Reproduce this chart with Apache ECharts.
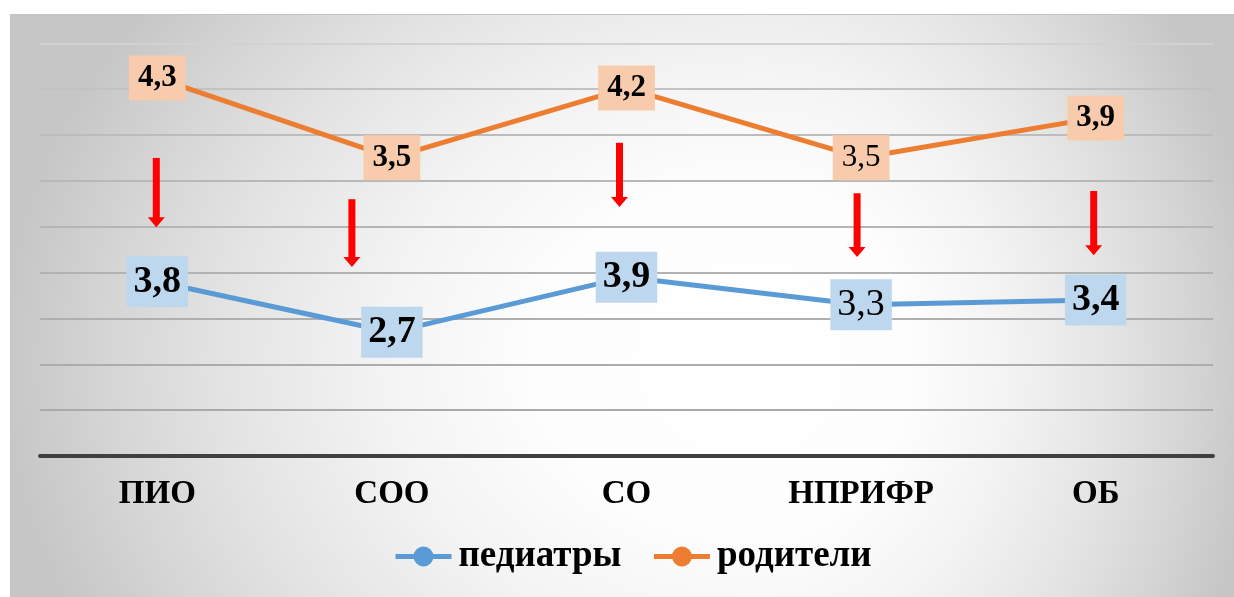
<!DOCTYPE html>
<html>
<head>
<meta charset="utf-8">
<script src="https://cdn.jsdelivr.net/npm/echarts@6/dist/echarts.min.js"></script>
<style>
  html, body { margin: 0; padding: 0; background: #ffffff; }
  #chart { width: 1234px; height: 597px; }
</style>
</head>
<body>
<div id="chart"></div>
<script>
// Categories and values
const categories = ['ПИО', 'СОО', 'СО', 'НПРИФР', 'ОБ'];
const seriesNames = ['педиатры', 'родители'];
const pediatricians = [3.8, 2.7, 3.9, 3.3, 3.4];
const parents = [4.3, 3.5, 4.2, 3.5, 3.9];
// Red arrows between the two lines (span in gridline-scale units)
const arrowTop = [6.5, 5.6, 6.83, 5.73, 5.78];
const arrowBottom = [4.99, 4.12, 5.43, 4.34, 4.38];
// Categories whose value labels are set in regular weight
const plainLabelCategories = ['НПРИФР'];

const FONT = "'Liberation Serif', 'Times New Roman', serif";
const fmt = v => String(v).replace('.', ',');

function buildData(values) {
  return values.map((v, i) => {
    const item = { value: v };
    if (plainLabelCategories.indexOf(categories[i]) >= 0) {
      item.label = { fontWeight: 'normal' };
    }
    return item;
  });
}

// Background panel: off-centre elliptical radial shading, drawn as two halves
const box = { x0: 10, y0: 14, x1: 1234, y1: 597 };
const cx = 760, cy = 360, ry = 600, rxL = 760, rxR = 500;
const stops = [
  { offset: 0, color: '#ffffff' },
  { offset: 0.3, color: '#fdfdfd' },
  { offset: 0.5, color: '#f3f3f3' },
  { offset: 0.7, color: '#e4e4e4' },
  { offset: 0.85, color: '#d6d6d6' },
  { offset: 1, color: '#c6c6c6' }
];
function halfPanel(left) {
  const s = (left ? rxL : rxR) / ry;
  const x0 = left ? (box.x0 - cx) / s : -0.5;
  const x1 = left ? 0.5 : (box.x1 - cx) / s;
  return {
    type: 'rect', z: -100, silent: true,
    x: cx, y: cy, scaleX: s, scaleY: 1,
    shape: { x: x0, y: box.y0 - cy, width: x1 - x0, height: box.y1 - box.y0 },
    style: { fill: new echarts.graphic.RadialGradient(0, 0, ry, stops, true) }
  };
}

const gridColors = ['#aaaaaa', '#aaaaaa', '#acacac', '#afafaf', '#b2b2b2',
                    '#b5b5b5', '#b8b8b8', '#bcbcbc', '#c2c2c2', '#d2d2d2'];

const chart = echarts.init(document.getElementById('chart'), null, { renderer: 'canvas' });

chart.setOption({
  backgroundColor: '#ffffff',
  animation: false,
  graphic: [
    halfPanel(true),
    halfPanel(false),
    {
      type: 'rect', z: -99, silent: true,
      shape: { x: box.x0 + 0.5, y: box.y0 + 0.5, width: box.x1 - box.x0, height: box.y1 - box.y0 },
      style: { fill: 'transparent', stroke: '#c4c4c4', lineWidth: 1 }
    }
  ],
  grid: { left: 40, right: 21, top: 43.3, bottom: 141, containLabel: false },
  legend: {
    data: seriesNames,
    left: 393, top: 538, padding: 0,
    itemWidth: 56, itemHeight: 25, itemGap: 30,
    lineStyle: { width: 5 },
    textStyle: { fontFamily: FONT, fontSize: 37, fontWeight: 'bold', color: '#000000', padding: [0, 0, 0, 2] }
  },
  xAxis: {
    type: 'category',
    data: categories,
    boundaryGap: true,
    axisLine: { lineStyle: { color: '#404040', width: 4 } },
    axisTick: { show: false },
    splitLine: { show: false },
    axisLabel: {
      margin: 22, color: '#000000',
      fontFamily: FONT, fontSize: 33, fontWeight: 'bold'
    }
  },
  yAxis: [
    {
      type: 'value', min: 0, max: 9, interval: 1,
      axisLine: { show: false }, axisTick: { show: false },
      axisLabel: { show: false },
      splitLine: { lineStyle: { color: gridColors, width: 2 } }
    },
    {
      type: 'value', min: 0.5, max: 4.65, show: false,
      splitLine: { show: false }
    }
  ],
  series: [
    {
      name: seriesNames[0],
      type: 'line',
      yAxisIndex: 0,
      data: buildData(pediatricians),
      symbol: 'circle', symbolSize: 10,
      lineStyle: { color: '#5b9bd5', width: 5 },
      itemStyle: { color: '#5b9bd5' },
      z: 3,
      label: {
        show: true, position: 'inside',
        formatter: p => fmt(p.value),
        fontFamily: FONT, fontSize: 38, fontWeight: 'bold', color: '#000000',
        lineHeight: 38,
        backgroundColor: '#bdd7ee', padding: [6, 7, 7, 7]
      }
    },
    {
      name: seriesNames[1],
      type: 'line',
      yAxisIndex: 1,
      data: buildData(parents),
      symbol: 'circle', symbolSize: 10,
      lineStyle: { color: '#ed7d31', width: 5 },
      itemStyle: { color: '#ed7d31' },
      z: 3,
      label: {
        show: true, position: 'inside',
        formatter: p => fmt(p.value),
        fontFamily: FONT, fontSize: 31, fontWeight: 'bold', color: '#000000',
        lineHeight: 31,
        backgroundColor: '#f8cbad', padding: [7, 9, 7, 9]
      }
    },
    {
      type: 'custom',
      name: 'arrows',
      xAxisIndex: 0, yAxisIndex: 0,
      silent: true, z: 2,
      encode: { x: 0, y: [1, 2] },
      data: categories.map((c, i) => [i, arrowTop[i], arrowBottom[i]]),
      renderItem: function (params, api) {
        const shift = [-1, -40, -7, -4, -2][params.dataIndex];
        const top = api.coord([api.value(0), api.value(1)]);
        const bot = api.coord([api.value(0), api.value(2)]);
        const x = top[0] + shift;
        const headH = 10, shaftW = 7, headW = 17;
        return {
          type: 'group',
          children: [
            {
              type: 'rect',
              shape: { x: x - shaftW / 2, y: top[1], width: shaftW, height: bot[1] - top[1] - headH + 1 },
              style: { fill: '#ff0000' }
            },
            {
              type: 'polygon',
              shape: { points: [[x - headW / 2, bot[1] - headH], [x + headW / 2, bot[1] - headH], [x, bot[1]]] },
              style: { fill: '#ff0000' }
            }
          ]
        };
      }
    }
  ]
});
</script>
</body>
</html>
